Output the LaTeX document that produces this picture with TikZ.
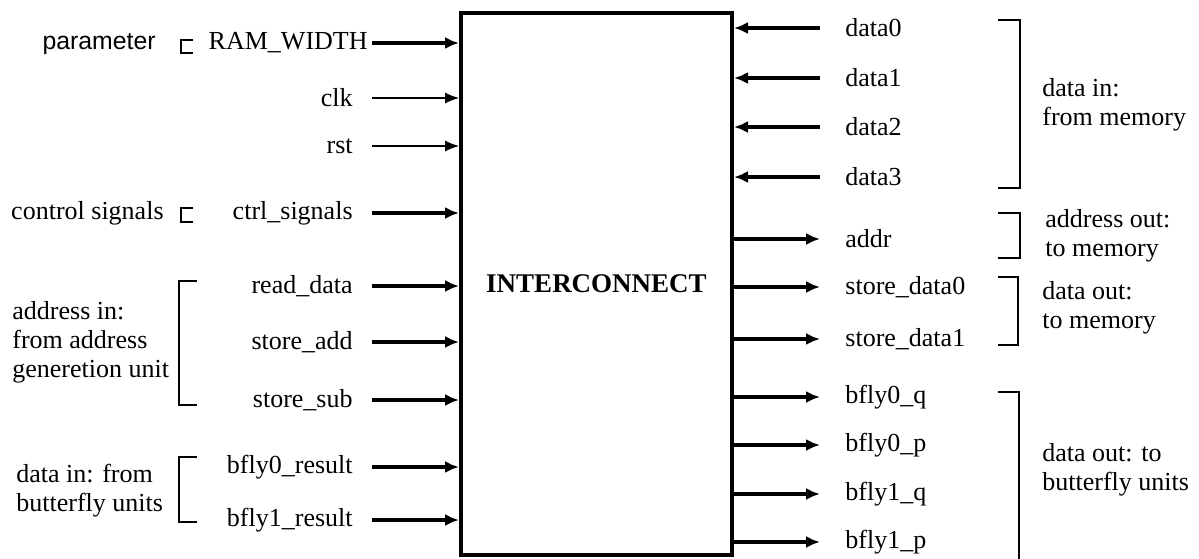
\documentclass[tikz,border=0pt]{standalone}
\usepackage{fontspec}
\setmainfont{Liberation Serif}
\newfontfamily\notesans{Liberation Sans}
\usetikzlibrary{arrows.meta}

\begin{document}
\begin{tikzpicture}[x=0.5pt,y=-0.5pt]
          \tikzset{
            block/.style={draw, line width=2pt, inner sep=0pt, minimum width=135.5pt, minimum height=271pt,
                          font=\fontsize{13.5}{15}\selectfont\bfseries},
            portin/.style={anchor=east, inner xsep=9.5pt, font=\fontsize{13}{15}\selectfont},
            portout/.style={anchor=west, inner xsep=12.5pt, font=\fontsize{13}{15}\selectfont},
            note/.style={align=left, inner sep=0pt, font=\fontsize{13}{14.5}\selectfont},
            bus/.style={line width=2pt, -{Latex[length=7pt,width=6pt]}},
            wire/.style={line width=0.6pt, -{Latex[length=7pt,width=5.5pt]}},
            brace/.style={line width=0.7pt}
          }
          \useasboundingbox (0,0) rectangle (1199,558);

          % block
          \node[block] (ic) at (596.5,284) {INTERCONNECT};

          % inputs
          \node[portin, inner xsep=2pt] (ram) at (372,43) {RAM\_WIDTH};
          \node[portin] (clk) at (372,98) {clk};
          \node[portin] (rst) at (372,146) {rst};
          \node[portin] (ctrl) at (372,213) {ctrl\_signals};
          \node[portin] (rdata) at (372,286) {read\_data};
          \node[portin] (sadd) at (372,342) {store\_add};
          \node[portin] (ssub) at (372,400) {store\_sub};
          \node[portin] (res0) at (372,467) {bfly0\_result};
          \node[portin] (res1) at (372,520) {bfly1\_result};

          % outputs
          \node[portout] (d0) at (820,28) {data0};
          \node[portout] (d1) at (820,78) {data1};
          \node[portout] (d2) at (820,127) {data2};
          \node[portout] (d3) at (820,177) {data3};
          \node[portout] (addr) at (820,239) {addr};
          \node[portout] (sd0) at (820,287) {store\_data0};
          \node[portout] (sd1) at (820,339) {store\_data1};
          \node[portout] (q0) at (820,397) {bfly0\_q};
          \node[portout] (p0) at (820,445) {bfly0\_p};
          \node[portout] (q1) at (820,494) {bfly1\_q};
          \node[portout] (p1) at (820,542) {bfly1\_p};

          % group notes
          \node[note, anchor=east, font=\notesans\fontsize{12.4}{14}\selectfont] (npar) at (156,44) {parameter};
          \node[note, anchor=east] (nctrl) at (164,213) {control signals};
          \node[note, anchor=west] (naddr) at (12,342) {address in:\\from address\\generetion unit};
          \node[note, anchor=west] (nres) at (16,491) {data in: from\\butterfly units};
          \node[note, anchor=west] (nmem) at (1042,105) {data in:\\from memory};
          \node[note, anchor=west] (naout) at (1045,236) {address out:\\to memory};
          \node[note, anchor=west] (ndout) at (1042,308) {data out:\\to memory};
          \node[note, anchor=west] (nbfly) at (1042,470) {data out: to\\butterfly units};

          % edges
          \draw[bus] (ram.east) -- (ram -| ic.west);
          \draw[wire] (clk.east) -- (clk -| ic.west);
          \draw[wire] (rst.east) -- (rst -| ic.west);
          \draw[bus] (ctrl.east) -- (ctrl -| ic.west);
          \draw[bus] (rdata.east) -- (rdata -| ic.west);
          \draw[bus] (sadd.east) -- (sadd -| ic.west);
          \draw[bus] (ssub.east) -- (ssub -| ic.west);
          \draw[bus] (res0.east) -- (res0 -| ic.west);
          \draw[bus] (res1.east) -- (res1 -| ic.west);
          \draw[bus] (d0.west) -- (d0 -| ic.east);
          \draw[bus] (d1.west) -- (d1 -| ic.east);
          \draw[bus] (d2.west) -- (d2 -| ic.east);
          \draw[bus] (d3.west) -- (d3 -| ic.east);
          \draw[bus] (addr -| ic.east) -- (addr.west);
          \draw[bus] (sd0 -| ic.east) -- (sd0.west);
          \draw[bus] (sd1 -| ic.east) -- (sd1.west);
          \draw[bus] (q0 -| ic.east) -- (q0.west);
          \draw[bus] (p0 -| ic.east) -- (p0.west);
          \draw[bus] (q1 -| ic.east) -- (q1.west);
          \draw[bus] (p1 -| ic.east) -- (p1.west);

          % brackets
          \draw[brace] (193,40) -- (181,40) -- (181,53) -- (193,53);
          \draw[brace] (193,208) -- (181,208) -- (181,222) -- (193,222);
          \draw[brace] (197,281) -- (179,281) -- (179,405) -- (197,405);
          \draw[brace] (197,457) -- (179,457) -- (179,522) -- (197,522);
          \draw[brace] (998,20) -- (1020,20) -- (1020,188) -- (998,188);
          \draw[brace] (998,213) -- (1020,213) -- (1020,258) -- (998,258);
          \draw[brace] (998,277) -- (1018,277) -- (1018,345) -- (998,345);
          \draw[brace] (998,392) -- (1019,392) -- (1019,570);
        \end{tikzpicture}
\end{document}
